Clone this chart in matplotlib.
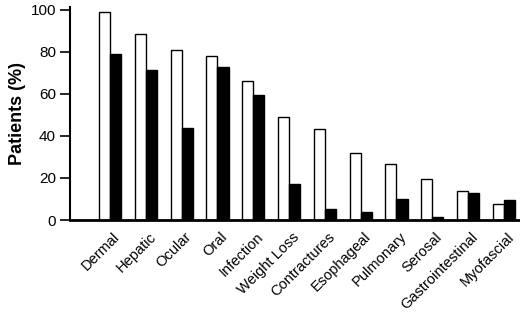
import numpy as np
import matplotlib.pyplot as plt

plt.rcParams['font.family'] = ['Liberation Sans', 'DejaVu Sans']

categories = ["Dermal", "Hepatic", "Ocular", "Oral", "Infection", "Weight Loss",
              "Contractures", "Esophageal", "Pulmonary", "Serosal",
              "Gastrointestinal", "Myofascial"]
white_vals = [99, 88.5, 81, 78, 66, 49, 43.5, 32, 26.5, 19.5, 14, 7.5]
black_vals = [79, 71.5, 44, 73, 59.5, 17, 5, 4, 10, 1.5, 13, 9.5]


def main():
    fig = plt.figure(figsize=(5.2, 3.16), dpi=100)
    ax = fig.add_axes([70 / 520, 96 / 316, 450 / 520, 213 / 316])
    x = np.arange(len(categories))
    w = 0.31
    ax.bar(x - w / 2, white_vals, w, color='white', edgecolor='black', linewidth=1.0)
    ax.bar(x + w / 2, black_vals, w, color='black', edgecolor='black', linewidth=1.0)

    ax.set_xlim(-1.12, 11.45)
    ax.set_ylim(0, 101.4)
    ax.set_yticks([0, 20, 40, 60, 80, 100])
    ax.tick_params(axis='y', labelsize=11, length=7, width=1.2, pad=3)
    ax.set_xticks(x + 0.08)
    ax.set_xticklabels(categories, rotation=45, ha='right', rotation_mode='anchor',
                       fontsize=10.5)
    ax.tick_params(axis='x', length=0, pad=7)
    ax.set_ylabel("Patients (%)", fontsize=13, fontweight='bold', labelpad=3)

    for s in ['top', 'right']:
        ax.spines[s].set_visible(False)
    ax.spines['left'].set_linewidth(1.5)
    ax.spines['bottom'].set_linewidth(2)

    fig.savefig("out.png", dpi=100)


if __name__ == "__main__":
    main()
